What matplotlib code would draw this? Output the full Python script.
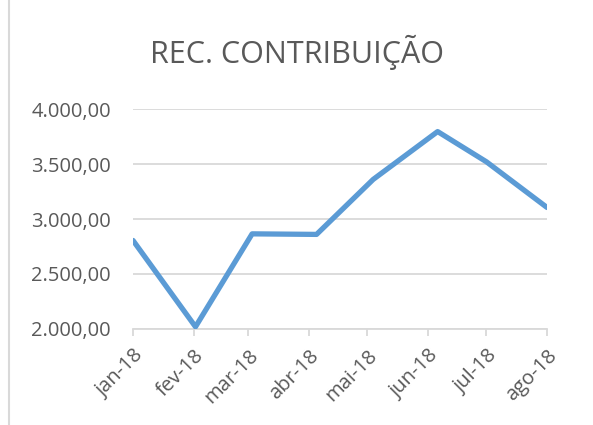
import numpy as np
import pandas as pd
import matplotlib
matplotlib.use("Agg")
import matplotlib.pyplot as plt
import matplotlib.dates as mdates
from matplotlib.lines import Line2D

# data (date axis, points sit a few days into each month)
point_dates = pd.to_datetime(["2018-01-01", "2018-02-02", "2018-03-03", "2018-04-05",
                              "2018-05-04", "2018-06-06", "2018-07-01", "2018-08-01"])
values = [2805, 2020, 2865, 2860, 3360, 3795, 3520, 3105]
tick_dates = pd.to_datetime(["2018-01-01", "2018-02-01", "2018-03-01", "2018-04-01",
                             "2018-05-01", "2018-06-01", "2018-07-01", "2018-08-01"])
tick_labels = ["jan-18", "fev-18", "mar-18", "abr-18", "mai-18", "jun-18", "jul-18", "ago-18"]
y_ticks = [2000, 2500, 3000, 3500, 4000]
y_labels = ["2.000,00", "2.500,00", "3.000,00", "3.500,00", "4.000,00"]

plt.rcParams['font.family'] = ['Open Sans', 'DejaVu Sans']
txt = '#595959'
grid = '#d9d9d9'

fig = plt.figure(figsize=(5.93, 4.25), dpi=100)
ax = fig.add_axes([0.2243, 0.2259, 0.6981, 0.5176])

ax.plot(point_dates, values, color='#5b9bd5', lw=3.8, solid_joinstyle='round',
        solid_capstyle='round', zorder=3)

ax.set_xlim(tick_dates[0], tick_dates[-1])
ax.set_ylim(2000, 4000)
ax.set_yticks(y_ticks)
ax.set_yticklabels(y_labels, color=txt, fontsize=14.5)
ax.yaxis.grid(True, color=grid, lw=1.3)
ax.tick_params(axis='y', length=0, pad=16)

ax.set_xticks(tick_dates)
ax.set_xticklabels(tick_labels, rotation=45, ha='right', va='top',
                   rotation_mode='anchor', color=txt, fontsize=14.5)
ax.tick_params(axis='x', length=5, width=1.3, color=grid, pad=7)

for s in ['top', 'right', 'left']:
    ax.spines[s].set_visible(False)
ax.spines['bottom'].set_color(grid)
ax.spines['bottom'].set_linewidth(1.3)
ax.set_axisbelow(True)

fig.text(0.5, 0.877, "REC. CONTRIBUIÇÃO", ha='center', va='center',
         color=txt, fontsize=22)

# chart area border on the left edge
fig.add_artist(Line2D([0.015, 0.015], [0, 1], color=grid, lw=1.5, transform=fig.transFigure))

fig.savefig("out.png", dpi=100)
